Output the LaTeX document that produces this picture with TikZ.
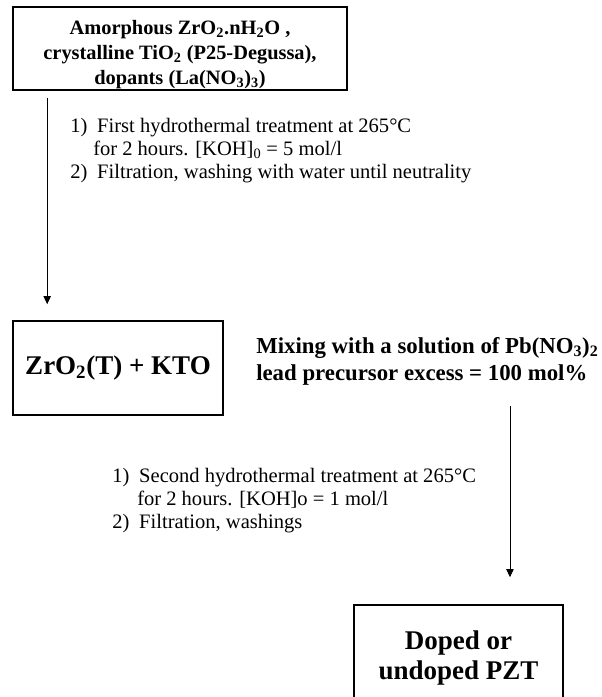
\documentclass[tikz,border=0pt]{standalone}
\usepackage{fontspec}
\setmainfont{Liberation Serif}
\usepackage{tikz}
\usetikzlibrary{arrows.meta, positioning}
\tikzstyle{box} = [rectangle, 
draw=black, 
line width=1.2pt, 
align=center, 
inner sep=0pt]
\tikzstyle{steps} = [align=left, anchor=north west, inner sep=0pt, 
font=\fontsize{15.4}{17.25}\selectfont]
\tikzstyle{arrow} = [line width=0.6pt,-{Triangle[width=5.5pt,length=6pt]}]

\begin{document}
\begin{tikzpicture}[x=0.75pt, y=-0.75pt]
        \useasboundingbox (0,0) rectangle (601,697);
        \clip (0,0) rectangle (601,697);
        % starting products
        \node[box, minimum width=250.5pt, minimum height=62.25pt, font=\fontsize{15.3}{18.75}\selectfont\bfseries] (start) at (180,48.5)
            {\rule{0pt}{19.5pt}Amorphous ZrO\textsubscript{2}.nH\textsubscript{2}O ,\\ crystalline TiO\textsubscript{2} (P25-Degussa),\\ dopants (La(NO\textsubscript{3})\textsubscript{3})};
        \node[steps] (step1) at (70,118)
            {\makebox[20.25pt][l]{1)}First hydrothermal treatment at 265°C\\
             \hspace*{17.25pt}for 2 hours. [KOH]\textsubscript{0} = 5 mol/l\\
             \makebox[20.25pt][l]{2)}Filtration, washing with water until neutrality};
        % intermediate
        \node[box, minimum width=157.5pt, minimum height=70.5pt, font=\fontsize{20.25}{24}\selectfont\bfseries] (kto) at (118,368)
            {ZrO\textsubscript{2}(T) + KTO};
        \node[align=left, anchor=north west, inner sep=0pt, font=\fontsize{17.1}{20.25}\selectfont\bfseries] (mix) at (256,337)
            {Mixing with a solution of Pb(NO\textsubscript{3})\textsubscript{2}\\ lead precursor excess = 100 mol\%};
        \node[steps] (step2) at (112,468)
            {\makebox[20.25pt][l]{1)}Second hydrothermal treatment at 265°C\\
             \hspace*{18.75pt}for 2 hours. [KOH]o = 1 mol/l\\
             \makebox[20.25pt][l]{2)}Filtration, washings};
        % final product
        \node[box, minimum width=156.75pt, minimum height=79.5pt, font=\fontsize{20.25}{22.5}\selectfont\bfseries] (pzt) at (458.5,658)
            {Doped or\\ undoped PZT};
        \draw[arrow] ([xshift=26.25pt,yshift=-5.25pt]start.south west) -- ([xshift=26.25pt,yshift=12pt]kto.north west);
        \draw[arrow] ([xshift=38.6pt,yshift=-15.75pt]pzt.north |- mix.south) -- ([xshift=38.6pt,yshift=20.25pt]pzt.north);
    \end{tikzpicture}
\end{document}
